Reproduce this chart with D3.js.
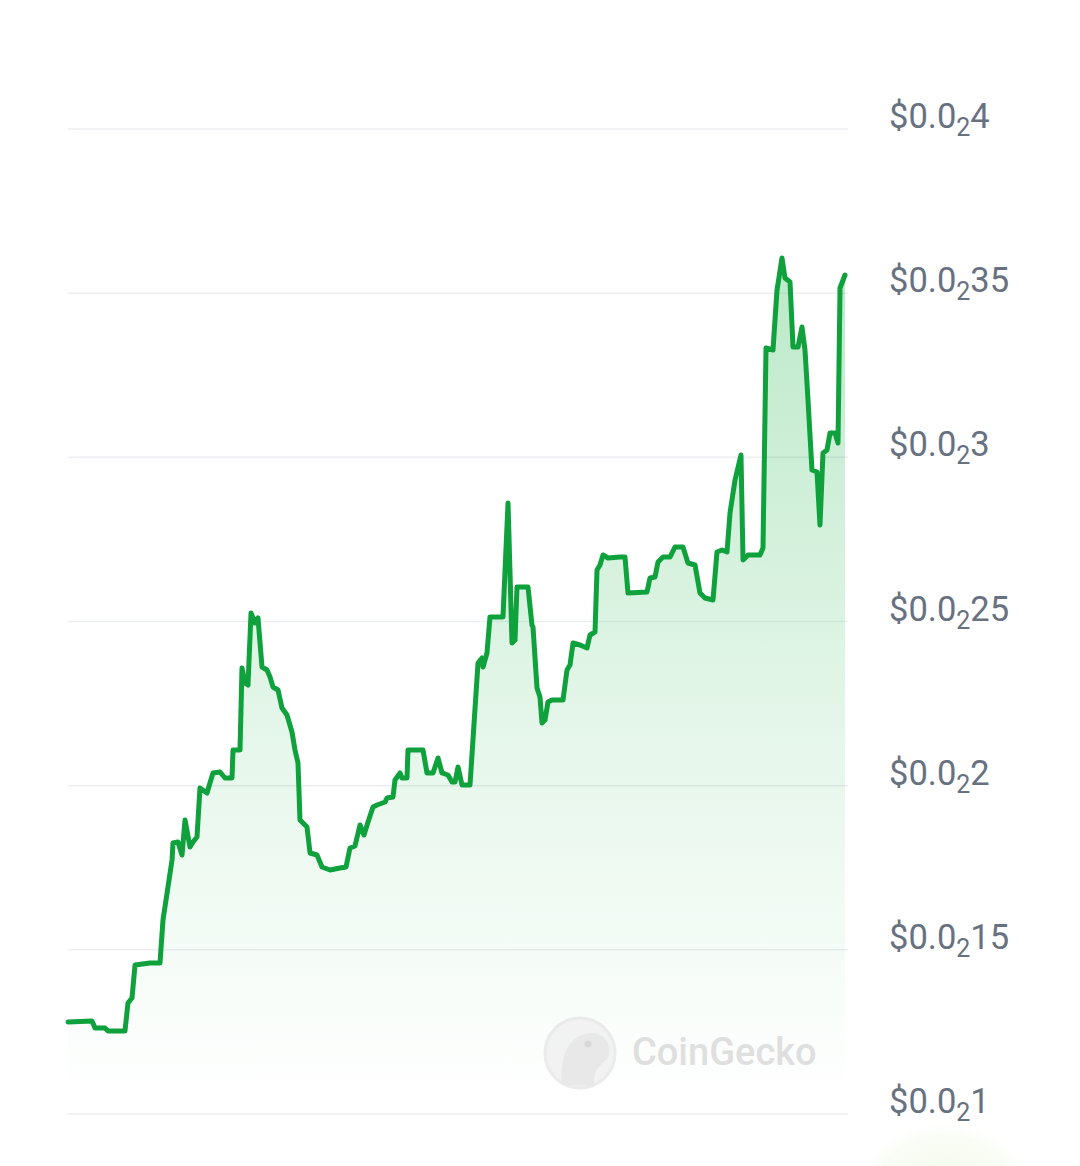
<!DOCTYPE html>
<html>
<head>
<meta charset="utf-8">
<script src="https://cdn.jsdelivr.net/npm/d3@7"></script>
<style>
  html, body { margin: 0; padding: 0; background: #ffffff; }
  svg { display: block; }
</style>
</head>
<body>
<div id="chart"></div>
<script>
// ---- data (hours since start, price in USD) ----
const hours = [0,5.19,5.84,8.0,8.65,12.32,12.97,13.84,14.49,17.73,19.89,20.54,21.62,22.49,22.70,23.78,24.65,25.30,26.38,27.03,27.89,28.54,30.05,31.35,32.87,33.95,35.46,35.68,37.19,37.62,38.27,38.92,39.57,40.43,41.08,41.95,43.03,43.68,44.33,45.41,46.27,47.35,48.43,49.08,49.73,50.16,51.68,52.33,53.84,54.92,56.65,58.81,60.11,60.97,62.05,63.14,64.0,64.87,65.95,66.81,68.54,68.97,70.27,70.70,71.79,72.22,73.30,73.51,76.76,77.62,78.92,80.0,80.87,82.16,83.03,83.68,84.33,85.19,86.92,88.65,89.51,89.73,90.59,91.24,94.05,95.14,96.0,96.65,97.08,99.46,100.32,100.54,101.41,102.05,102.49,103.14,103.78,104.65,107.03,107.89,108.54,109.19,110.70,112.22,112.86,113.95,114.38,115.03,115.68,116.76,119.35,120.43,121.08,125.19,125.84,126.92,127.57,128.65,130.16,131.24,132.97,134.05,135.57,136.65,137.73,139.46,140.32,141.41,142.49,143.14,144.22,145.51,145.95,147.03,149.62,150.27,150.92,152.43,153.30,154.38,155.03,156.11,156.76,157.84,158.70,159.35,160.0,160.86,161.95,162.59,163.24,164.11,164.76,165.84,166.49,166.92,168.0];
const prices = [0.0012802,0.0012832,0.0012619,0.0012619,0.0012528,0.0012528,0.0013381,0.0013533,0.0014538,0.0014599,0.0014599,0.0015909,0.0016914,0.0017736,0.0018254,0.0018284,0.0017888,0.0018954,0.0018132,0.0018284,0.0018436,0.0019929,0.0019777,0.0020386,0.0020416,0.0020233,0.0020233,0.0021086,0.0021086,0.0023584,0.0023127,0.0023066,0.0025259,0.0024954,0.0025107,0.0023614,0.0023523,0.0023310,0.0023005,0.0022914,0.0022365,0.0022152,0.0021634,0.0021086,0.0020690,0.0018954,0.0018741,0.0017949,0.0017888,0.0017523,0.0017431,0.0017492,0.0017523,0.0018101,0.0018162,0.0018802,0.0018497,0.0018893,0.0019350,0.0019411,0.0019502,0.0019624,0.0019655,0.0020173,0.0020386,0.0020233,0.0020233,0.0021086,0.0021086,0.0020386,0.0020386,0.0020843,0.0020386,0.0020325,0.0020112,0.0020112,0.0020568,0.0020020,0.0020020,0.0023736,0.0023888,0.0023614,0.0024041,0.0025137,0.0025137,0.0028609,0.0024345,0.0024437,0.0026051,0.0026051,0.0024893,0.0024832,0.0022975,0.0022701,0.0021909,0.0022000,0.0022548,0.0022609,0.0022609,0.0023523,0.0023675,0.0024345,0.0024284,0.0024193,0.0024589,0.0024680,0.0026569,0.0026721,0.0027025,0.0026934,0.0026964,0.0026964,0.0025868,0.0025898,0.0026325,0.0026355,0.0026812,0.0026964,0.0026964,0.0027269,0.0027269,0.0026782,0.0026721,0.0025868,0.0025716,0.0025655,0.0027117,0.0027178,0.0027117,0.0028305,0.0029310,0.0030071,0.0026873,0.0027025,0.0027025,0.0027239,0.0033330,0.0033269,0.0035096,0.0036071,0.0035462,0.0035340,0.0033360,0.0033360,0.0033970,0.0033269,0.0031746,0.0029614,0.0029553,0.0027939,0.0030132,0.0030223,0.0030741,0.0030741,0.0030437,0.0035157,0.0035553];
const tickValues = [0.001, 0.0015, 0.002, 0.0025, 0.003, 0.0035, 0.004];
const tickPrefix = "$0.0";
const tickSub = "2";
const tickDigits = ["1", "15", "2", "25", "3", "35", "4"];

(function () {
  // ---- layout ----
  const W = 1080, H = 1166;
  const mLeft = 68, mRight = 845, mTop = 129, mBottom = 1114;

  const svg = d3.select("#chart").append("svg").attr("width", W).attr("height", H);

  const x = d3.scaleLinear().domain([0, 168]).range([mLeft, mRight]);
  const y = d3.scaleLinear().domain([0.001, 0.004]).range([mBottom, mTop]);

  const data = hours.map((h, i) => ({ h, p: prices[i] }));

  const defs = svg.append("defs");
  const grad = defs.append("linearGradient").attr("id", "areaGrad")
    .attr("gradientUnits", "userSpaceOnUse")
    .attr("x1", 0).attr("x2", 0).attr("y1", y(0.0036)).attr("y2", y(0.00105));
  grad.append("stop").attr("offset", 0).attr("stop-color", "#1fb54a").attr("stop-opacity", 0.30);
  grad.append("stop").attr("offset", 0.55).attr("stop-color", "#1fb54a").attr("stop-opacity", 0.12);
  grad.append("stop").attr("offset", 1).attr("stop-color", "#1fb54a").attr("stop-opacity", 0.0);

  const glow = defs.append("radialGradient").attr("id", "glow");
  glow.append("stop").attr("offset", 0).attr("stop-color", "#f1f9e6").attr("stop-opacity", 0.9);
  glow.append("stop").attr("offset", 0.8).attr("stop-color", "#f6fbef").attr("stop-opacity", 0.6);
  glow.append("stop").attr("offset", 1).attr("stop-color", "#ffffff").attr("stop-opacity", 0);

  // gridlines
  svg.append("g").selectAll("line").data(tickValues).join("line")
    .attr("x1", mLeft).attr("x2", 848)
    .attr("y1", d => y(d)).attr("y2", d => y(d))
    .attr("stroke", "#eceef1").attr("stroke-width", 1.5);

  // area
  svg.append("path").datum(data)
    .attr("fill", "url(#areaGrad)")
    .attr("d", d3.area().x(d => x(d.h)).y0(y(0.001)).y1(d => y(d.p)));

  // watermark
  const wm = svg.append("g").attr("opacity", 0.9);
  wm.append("circle").attr("cx", 580).attr("cy", 1053).attr("r", 35)
    .attr("fill", "#f1f1f1").attr("stroke", "#e9e9e9").attr("stroke-width", 3);
  wm.append("path")
    .attr("d", "M562,1085 C560,1060 566,1035 590,1033 C605,1032 613,1045 608,1058 C600,1066 592,1070 595,1086 Z")
    .attr("fill", "#e6e6e6");
  wm.append("circle").attr("cx", 588).attr("cy", 1044).attr("r", 3.5).attr("fill", "#d4d4d4");
  wm.append("text").attr("x", 632).attr("y", 1065)
    .attr("font-family", "Roboto, 'Noto Sans', sans-serif").attr("font-size", 38).attr("font-weight", 500)
    .attr("fill", "#dcdcdc").text("CoinGecko");

  // line
  svg.append("path").datum(data)
    .attr("fill", "none")
    .attr("stroke", "#0ea13c")
    .attr("stroke-width", 5)
    .attr("stroke-linejoin", "round")
    .attr("stroke-linecap", "round")
    .attr("d", d3.line().x(d => x(d.h)).y(d => y(d.p)));

  // bottom-right glow
  svg.append("ellipse").attr("cx", 945).attr("cy", 1195).attr("rx", 90).attr("ry", 75)
    .attr("fill", "url(#glow)");

  // tick labels
  const labels = svg.append("g").selectAll("text").data(tickValues).join("text")
    .attr("x", 889).attr("y", d => y(d) - 1)
    .attr("font-family", "Roboto, 'Noto Sans', sans-serif")
    .attr("font-size", 34.5)
    .attr("fill", "#687180");
  labels.append("tspan").text(tickPrefix);
  labels.append("tspan").attr("font-size", 25).attr("dy", 8).text(tickSub);
  labels.append("tspan").attr("dy", -8).text((d, i) => tickDigits[i]);
})();
</script>
</body>
</html>
